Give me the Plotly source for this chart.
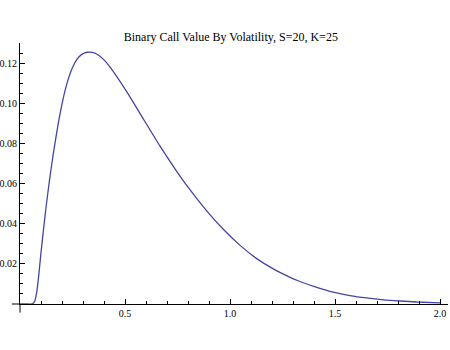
import plotly.graph_objects as go

# Volatility (x) and binary call value (y)
sigma = [0.0, 0.03, 0.056, 0.06, 0.07, 0.08, 0.09, 0.10, 0.12, 0.14,
         0.16, 0.18, 0.20, 0.22, 0.24, 0.26, 0.28, 0.30, 0.32, 0.33,
         0.345, 0.365, 0.40, 0.429, 0.508, 0.587, 0.667, 0.746, 0.81, 0.889,
         0.968, 1.048, 1.127, 1.206, 1.286, 1.333, 1.413, 1.492, 1.571, 1.651,
         1.73, 1.81, 1.889, 2.0]
value = [0.0, 0.0, 0.0, 0.0001, 0.0014, 0.0062, 0.0150, 0.0256, 0.0447, 0.0613,
         0.0758, 0.0886, 0.0996, 0.1085, 0.1152, 0.1199, 0.1230, 0.1247, 0.1254, 0.1255,
         0.1253, 0.1245, 0.1216, 0.1180, 0.1058, 0.0922, 0.0786, 0.0661, 0.0568, 0.0464,
         0.0372, 0.0292, 0.0226, 0.0175, 0.0133, 0.0112, 0.0083, 0.0059, 0.0042, 0.0030,
         0.0021, 0.0015, 0.0010, 0.0006]

x_tickvals = [0.5, 1.0, 1.5, 2.0]
x_ticktext = ["0.5", "1.0", "1.5", "2.0"]
y_tickvals = [0.02, 0.04, 0.06, 0.08, 0.10, 0.12]
y_ticktext = ["0.02", "0.04", "0.06", "0.08", "0.10", "0.12"]

title_text = "Binary Call Value By Volatility, S=20, K=25"

fig = go.Figure()
fig.add_trace(go.Scatter(
    x=sigma, y=value, mode="lines",
    line=dict(color="#4545a5", width=1.3, shape="spline", smoothing=0.6),
    hoverinfo="skip", showlegend=False,
))

font = "Liberation Serif, Times New Roman, serif"

# small axis overhangs past the origin, as in the reference
fig.add_shape(type="line", xref="paper", yref="paper", x0=-0.019, x1=0, y0=0, y1=0,
              line=dict(color="black", width=1))
fig.add_shape(type="line", xref="paper", yref="paper", x0=0, x1=0, y0=-0.033, y1=0,
              line=dict(color="black", width=1))

fig.update_layout(
    width=450, height=350,
    margin=dict(l=20, r=2, t=43, b=45.5),
    paper_bgcolor="white", plot_bgcolor="white",
    font=dict(family=font, size=10, color="black"),
    title=dict(text=title_text, x=0.513, xanchor="center", y=1 - 37 / 350,
               yanchor="middle", font=dict(family=font, size=12, color="black")),
    xaxis=dict(
        range=[0, 2.038], showgrid=False, zeroline=False,
        showline=True, linecolor="black", linewidth=1,
        ticks="inside", ticklen=5, tickwidth=1, tickcolor="black",
        tickvals=x_tickvals, ticktext=x_ticktext,
        minor=dict(dtick=0.1, tick0=0, ticks="inside", ticklen=3,
                   tickwidth=1, tickcolor="black", showgrid=False),
        automargin=False, fixedrange=True,
    ),
    yaxis=dict(
        range=[0, 0.13], showgrid=False, zeroline=False,
        showline=True, linecolor="black", linewidth=1,
        ticks="inside", ticklen=5, tickwidth=1, tickcolor="black",
        tickvals=y_tickvals, ticktext=y_ticktext,
        minor=dict(dtick=0.005, tick0=0, ticks="inside", ticklen=3,
                   tickwidth=1, tickcolor="black", showgrid=False),
        automargin=False, fixedrange=True,
    ),
)

fig.write_html("out.html", config={"displayModeBar": False})
